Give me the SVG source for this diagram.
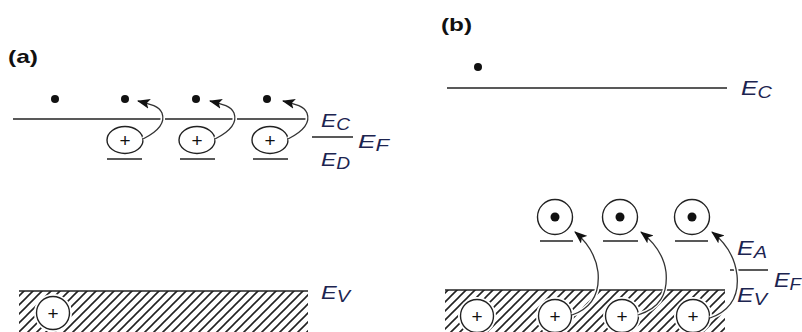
<svg xmlns="http://www.w3.org/2000/svg" width="802" height="332" viewBox="0 0 802 332">
<style>
.ln{stroke:#222;stroke-width:1.6;fill:none}
.cir{fill:#fff;stroke:#222;stroke-width:1.4}
.halo{fill:#fff;stroke:#fff;stroke-width:5}
.dot{fill:#111}
.plus{font-family:"Liberation Sans",Arial,sans-serif;font-size:19px;fill:#111;text-anchor:middle}
.lab{font-family:"Liberation Sans",Arial,sans-serif;font-style:italic;font-size:19px;fill:#1c2450}
.labb{font-size:20px}
.sub{font-size:16px}
.ttl{font-family:"Liberation Sans",Arial,sans-serif;font-weight:bold;font-size:19px;fill:#111}
.arr{stroke:#333;stroke-width:1.3;fill:none;marker-end:url(#ah)}
.arrw{stroke:#fff;stroke-width:4.5;fill:none}
</style>
<defs>
<marker id="ah" markerUnits="userSpaceOnUse" markerWidth="14" markerHeight="10" refX="12" refY="5" orient="auto">
<path d="M0,0 L13,5 L0,10 L3,5 Z" fill="#111"/>
</marker>
<pattern id="hatch" patternUnits="userSpaceOnUse" width="9" height="9">
<path d="M-1,10 L10,-1 M-3,3 L3,-3 M6,12 L12,6" stroke="#222" stroke-width="1.6"/>
</pattern>
</defs>
<rect width="802" height="332" fill="#fff"/>

<g id="panel-a">
<text class="ttl" x="8" y="63" textLength="30" lengthAdjust="spacingAndGlyphs">(a)</text>
<g id="a-conduction"><line class="ln" x1="13" y1="119" x2="307" y2="119"/></g>
<g id="a-valence">
<rect x="19" y="291" width="289" height="41" fill="url(#hatch)"/>
<line class="ln" x1="19" y1="291" x2="308" y2="291"/>
</g>
<g id="a-electrons">
<circle class="dot" cx="55" cy="99" r="4"/>
<circle class="dot" cx="125" cy="99" r="4"/>
<circle class="dot" cx="196" cy="99" r="4"/>
<circle class="dot" cx="267" cy="99" r="4"/>
</g>
<g id="a-donor1">
<ellipse class="cir" cx="125" cy="140" rx="18" ry="13.5"/>
<text class="plus" x="125" y="147">+</text>
<line class="ln" x1="107" y1="159" x2="142" y2="159"/>
</g>
<g id="a-donor2">
<ellipse class="cir" cx="197" cy="140" rx="18" ry="13.5"/>
<text class="plus" x="197" y="147">+</text>
<line class="ln" x1="180" y1="159" x2="215" y2="159"/>
</g>
<g id="a-donor3">
<ellipse class="cir" cx="270" cy="140" rx="18" ry="13.5"/>
<text class="plus" x="270" y="147">+</text>
<line class="ln" x1="253" y1="159" x2="288" y2="159"/>
</g>
<g id="a-hole">
<circle class="halo" cx="53" cy="313" r="16.5"/>
<circle class="cir" cx="53" cy="313" r="16.5"/>
<text class="plus" x="53" y="320">+</text>
</g>
<g id="a-levels">
<line class="ln" x1="312" y1="137" x2="353" y2="137"/>
<text class="lab" x="321" y="127" textLength="29" lengthAdjust="spacingAndGlyphs">E<tspan class="sub" dy="3">C</tspan></text>
<text class="lab" x="358" y="148" textLength="31" lengthAdjust="spacingAndGlyphs">E<tspan class="sub" dy="3">F</tspan></text>
<text class="lab" x="321" y="166" textLength="29" lengthAdjust="spacingAndGlyphs">E<tspan class="sub" dy="3">D</tspan></text>
<text class="lab" x="321" y="299" textLength="29" lengthAdjust="spacingAndGlyphs">E<tspan class="sub" dy="3">V</tspan></text>
</g>
</g>

<g id="panel-b">
<text class="ttl" x="441" y="31" textLength="31" lengthAdjust="spacingAndGlyphs">(b)</text>
<g id="b-conduction">
<line class="ln" x1="447" y1="88" x2="727" y2="88"/>
<circle class="dot" cx="478" cy="67" r="4"/>
</g>
<g id="b-valence">
<rect x="445" y="290" width="280" height="42" fill="url(#hatch)"/>
<line class="ln" x1="445" y1="290" x2="725" y2="290"/>
</g>
<g id="b-acceptor1">
<circle class="cir" cx="555" cy="217" r="17.5"/>
<circle class="dot" cx="555" cy="217" r="4.5"/>
<line class="ln" x1="540" y1="241" x2="573" y2="241"/>
</g>
<g id="b-acceptor2">
<circle class="cir" cx="620" cy="217" r="17.5"/>
<circle class="dot" cx="620" cy="217" r="4.5"/>
<line class="ln" x1="603" y1="241" x2="638" y2="241"/>
</g>
<g id="b-acceptor3">
<circle class="cir" cx="692" cy="217" r="17.5"/>
<circle class="dot" cx="692" cy="217" r="4.5"/>
<line class="ln" x1="675" y1="241" x2="708" y2="241"/>
</g>
<g id="b-hole1"><circle class="halo" cx="477" cy="316" r="16.5"/><circle class="cir" cx="477" cy="316" r="16.5"/><text class="plus" x="477" y="323">+</text></g>
<g id="b-hole2"><circle class="halo" cx="555" cy="316" r="16.5"/><circle class="cir" cx="555" cy="316" r="16.5"/><text class="plus" x="555" y="323">+</text></g>
<g id="b-hole3"><circle class="halo" cx="622" cy="316" r="16.5"/><circle class="cir" cx="622" cy="316" r="16.5"/><text class="plus" x="622" y="323">+</text></g>
<g id="b-hole4"><circle class="halo" cx="693" cy="316" r="16.5"/><circle class="cir" cx="693" cy="316" r="16.5"/><text class="plus" x="693" y="323">+</text></g>
<g id="b-levels">
<line class="ln" x1="730" y1="270" x2="768" y2="270"/>
<text class="lab labb" x="741" y="95" textLength="31" lengthAdjust="spacingAndGlyphs">E<tspan class="sub" dy="3">C</tspan></text>
<text class="lab labb" x="737" y="255" textLength="30" lengthAdjust="spacingAndGlyphs">E<tspan class="sub" dy="3">A</tspan></text>
<text class="lab labb" x="774" y="287" textLength="27" lengthAdjust="spacingAndGlyphs">E<tspan class="sub" dy="3">F</tspan></text>
<text class="lab labb" x="737" y="302" textLength="30" lengthAdjust="spacingAndGlyphs">E<tspan class="sub" dy="3">V</tspan></text>
</g>
</g>

<g id="connectors">
<path class="arrw" d="M143,139 C157,132 166,124 162,113 C159,106 150,104 138,101"/>
<path class="arr" d="M143,139 C157,132 166,124 162,113 C159,106 150,104 138,101"/>
<path class="arrw" d="M215,139 C229,132 238,124 234,113 C231,106 222,104 210,101"/>
<path class="arr" d="M215,139 C229,132 238,124 234,113 C231,106 222,104 210,101"/>
<path class="arrw" d="M288,139 C302,132 311,124 307,113 C304,106 295,104 283,101"/>
<path class="arr" d="M288,139 C302,132 311,124 307,113 C304,106 295,104 283,101"/>
<path class="arrw" d="M572,315 C592,308 600,294 598,272 C596,256 588,243 575,232"/>
<path class="arr" d="M572,315 C592,308 600,294 598,272 C596,256 588,243 575,232"/>
<path class="arrw" d="M638,315 C660,308 668,294 666,272 C664,256 655,243 641,232"/>
<path class="arr" d="M638,315 C660,308 668,294 666,272 C664,256 655,243 641,232"/>
<path class="arrw" d="M710,318 C732,310 739,294 737,275 C735,258 726,243 712,232"/>
<path class="arr" d="M710,318 C732,310 739,294 737,275 C735,258 726,243 712,232"/>
</g>
</svg>
